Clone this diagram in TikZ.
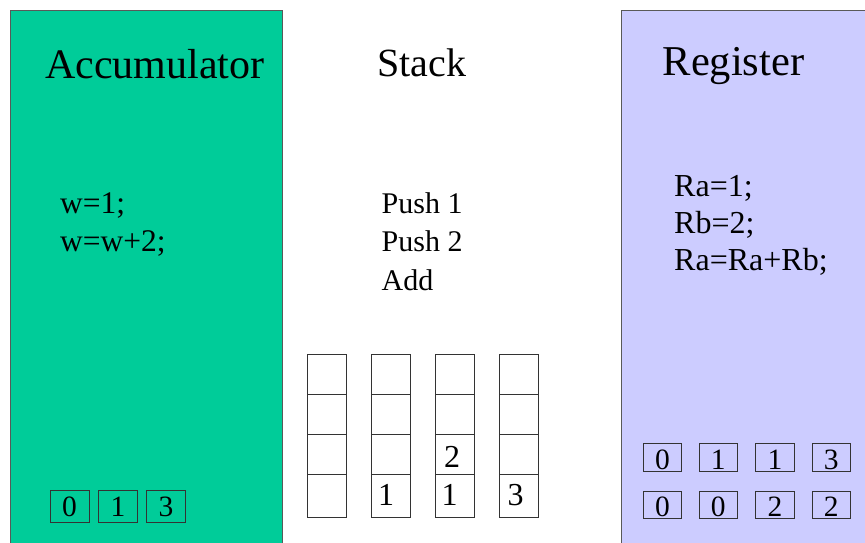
\documentclass[tikz,border=0pt]{standalone}
\usepackage{fontspec}
\setmainfont{Liberation Serif}
\definecolor{accgreen}{HTML}{00CC99}
\definecolor{reglilac}{HTML}{CCCCFF}
\begin{document}
\begin{tikzpicture}[x=1pt,y=-1pt,
  panel/.style={draw=black!65, line width=0.9pt},
  heading/.style={anchor=base west, inner sep=0pt, font=\fontsize{42}{50}\selectfont},
  code/.style={anchor=base west, inner sep=0pt, font=\fontsize{30}{36}\selectfont},
  regcode/.style={anchor=base west, inner sep=0pt, font=\fontsize{32}{38}\selectfont},
  cell/.style={draw=black!80, line width=0.9pt, minimum width=39pt, inner sep=0pt},
  valbox/.style={draw=black!80, line width=0.8pt, inner sep=0pt,
    font=\fontsize{29.5}{34}\selectfont},
  accbox/.style={valbox, minimum width=39pt, text height=26pt, text depth=5.6pt},
  regbox/.style={valbox, minimum width=38.5pt, text height=25.7pt, text depth=2pt},
  stkval/.style={anchor=base west, inner sep=0pt, font=\fontsize{32}{38}\selectfont}]
\useasboundingbox (0,0) rectangle (865,542);
\clip (0,0) rectangle (865,542);
\fill[white] (0,0) rectangle (865,542);

% the three panels
\filldraw[panel, fill=accgreen] (10,10) rectangle (282,560);
\filldraw[panel, fill=reglilac] (621,10) rectangle (880,560);

% headings
\node[heading] (hacc) at (45,78) {Accumulator};
\node[heading, font=\fontsize{40}{48}\selectfont] (hstk) at (377,76) {Stack};
\node[heading, font=\fontsize{42.5}{50}\selectfont] (hreg) at (662.5,75.5) {Register};

% programs
\node[code, font=\fontsize{31.5}{38}\selectfont] (acc1) at (60,213.3) {w=1;};
\node[code, font=\fontsize{31.5}{38}\selectfont] (acc2) at (60,251) {w=w+2;};

\node[code] (stk1) at (381.5,213.3) {Push 1};
\node[code] (stk2) at (381.5,251.7) {Push 2};
\node[code] (stk3) at (381.5,290) {Add};

\node[regcode] (reg1) at (674,196) {Ra=1;};
\node[regcode] (reg2) at (674,233.3) {Rb=2;};
\node[regcode] (reg3) at (674,270) {Ra=Ra+Rb;};

% accumulator contents over time
\node[accbox] (a1) at (69.6,506.5) {0};
\node[accbox] (a2) at (118,506.5) {1};
\node[accbox] (a3) at (166,506.5) {3};

% stack snapshots: four columns of four cells
\foreach \c/\x in {1/326.5, 2/391.2, 3/454.7, 4/519} {
  \node[cell, minimum height=40pt] (s\c-1) at (\x,374) {};
  \node[cell, minimum height=40pt] (s\c-2) at (\x,414) {};
  \node[cell, minimum height=40pt] (s\c-3) at (\x,454) {};
  \node[cell, minimum height=43.5pt] (s\c-4) at (\x,495.8) {};
}
\node[stkval] (v21) at (378,505.7) {1};
\node[stkval] (v32) at (444,467) {2};
\node[stkval] (v31) at (441.5,505.7) {1};
\node[stkval] (v41) at (507.5,505.7) {3};

% register contents over time
\node[regbox] (ra1) at (662.5,457.2) {0};
\node[regbox] (ra2) at (718.3,457.2) {1};
\node[regbox] (ra3) at (775,457.2) {1};
\node[regbox] (ra4) at (831.3,457.2) {3};
\node[regbox] (rb1) at (662.5,505) {0};
\node[regbox] (rb2) at (718.3,505) {0};
\node[regbox] (rb3) at (775,505) {2};
\node[regbox] (rb4) at (831.3,505) {2};
\end{tikzpicture}
\end{document}
